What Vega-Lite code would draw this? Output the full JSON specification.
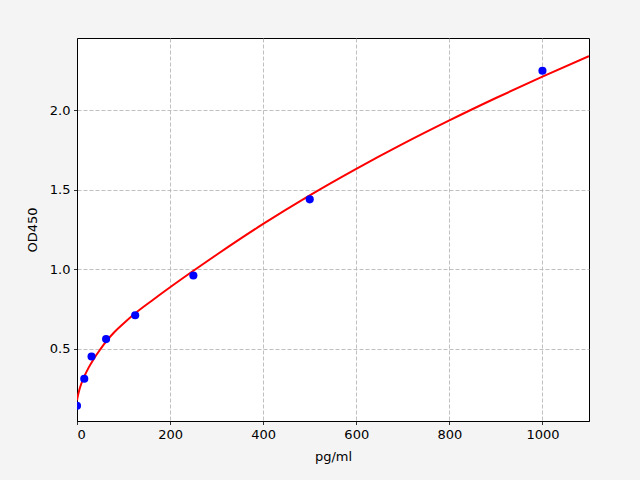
{
  "$schema": "https://vega.github.io/schema/vega-lite/v6.json",
  "width": 512,
  "height": 383,
  "autosize": {"type": "none"},
  "padding": {"left": 77, "top": 38, "right": 51, "bottom": 59},
  "background": "#f4f4f4",
  "config": {
    "font": "DejaVu Sans",
    "view": {"fill": "white", "stroke": "black", "strokeWidth": 1},
    "axis": {
      "grid": true,
      "gridColor": "#b0b0b0",
      "gridDash": [4, 2],
      "gridWidth": 0.8,
      "domain": true,
      "domainColor": "black",
      "domainWidth": 1,
      "tickColor": "black",
      "tickSize": 3.5,
      "tickWidth": 0.8,
      "labelPadding": 3.5,
      "labelFontSize": 13,
      "labelColor": "black",
      "titleFontSize": 13,
      "titleFontWeight": "normal",
      "titleColor": "black"
    }
  },
  "datasets": {
    "standards": [
      {"conc": 0, "od": 0.14},
      {"conc": 15.6, "od": 0.31},
      {"conc": 31.25, "od": 0.45},
      {"conc": 62.5, "od": 0.56},
      {"conc": 125, "od": 0.71},
      {"conc": 250, "od": 0.96},
      {"conc": 500, "od": 1.44},
      {"conc": 1000, "od": 2.25}
    ],
    "fit": [
      {"conc": 0, "od": 0.175},
      {"conc": 2, "od": 0.205},
      {"conc": 5, "od": 0.24},
      {"conc": 10, "od": 0.285},
      {"conc": 15, "od": 0.32},
      {"conc": 25, "od": 0.38},
      {"conc": 36, "od": 0.435},
      {"conc": 50, "od": 0.495},
      {"conc": 64, "od": 0.55},
      {"conc": 80, "od": 0.603},
      {"conc": 100, "od": 0.658},
      {"conc": 125, "od": 0.722},
      {"conc": 160, "od": 0.80},
      {"conc": 200, "od": 0.886},
      {"conc": 250, "od": 0.99},
      {"conc": 300, "od": 1.091},
      {"conc": 400, "od": 1.285},
      {"conc": 500, "od": 1.465},
      {"conc": 600, "od": 1.632},
      {"conc": 700, "od": 1.789},
      {"conc": 800, "od": 1.937},
      {"conc": 900, "od": 2.078},
      {"conc": 1000, "od": 2.213},
      {"conc": 1100, "od": 2.342}
    ]
  },
  "encoding": {
    "x": {
      "field": "conc",
      "type": "quantitative",
      "title": "pg/ml",
      "scale": {"domain": [0, 1100], "nice": false, "zero": false},
      "axis": {"values": [0, 200, 400, 600, 800, 1000], "format": "d", "titlePadding": 9}
    },
    "y": {
      "field": "od",
      "type": "quantitative",
      "title": "OD450",
      "scale": {"domain": [0.044, 2.456], "nice": false, "zero": false},
      "axis": {"values": [0.5, 1.0, 1.5, 2.0], "format": ".1f", "titlePadding": 10}
    }
  },
  "layer": [
    {
      "data": {"name": "fit"},
      "mark": {"type": "line", "color": "red", "strokeWidth": 2, "clip": true, "interpolate": "monotone"}
    },
    {
      "data": {"name": "standards"},
      "mark": {"type": "circle", "color": "blue", "opacity": 1, "size": 66, "clip": true}
    }
  ]
}
